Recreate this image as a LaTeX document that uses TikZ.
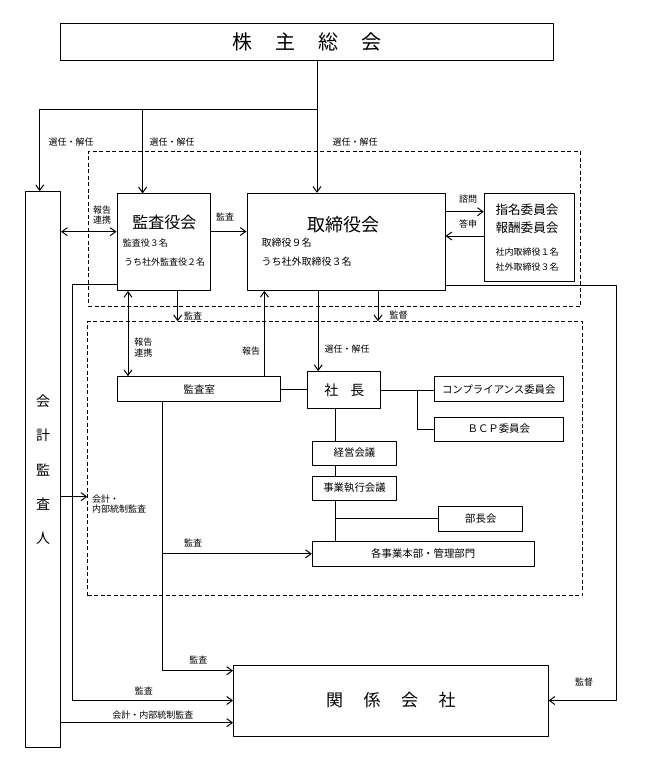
\documentclass[tikz,border=0pt]{standalone}
\usepackage{fontspec}
\setmainfont{Noto Sans CJK JP}
\usetikzlibrary{arrows.meta}

\begin{document}
\begin{tikzpicture}[x=1pt,y=-1pt,>={Straight Barb[length=5.5pt,width=8pt]},line join=bevel,line width=1pt,
  box/.style={draw,rectangle,inner sep=0pt},
  grp/.style={draw,rectangle,inner sep=0pt,line width=0.8pt,dash pattern=on 4pt off 2.5pt},
  lbl/.style={inner sep=0pt,font=\fontsize{9}{10.5}\selectfont},
  txt/.style={inner sep=0pt,font=\fontsize{10.4}{12}\selectfont},
  sub/.style={inner sep=0pt,anchor=west,font=\fontsize{9}{11}\selectfont}]
\useasboundingbox (0,0) rectangle (648,765);
%%
  % Group: board
  \node[grp,minimum width=492.6pt,minimum height=154.3pt] (grp1) at (334.3,228.85) {};
  % Group: executive
  \node[grp,minimum width=494.9pt,minimum height=274pt] (grp2) at (335.15,458.7) {};
  % Node: 株主総会
  \node[box,minimum width=493.4pt,minimum height=37.3pt,font=\fontsize{20}{24}\selectfont] (agm) at (307,41.7)
    {株\hspace{22.7pt}主\hspace{22.7pt}総\hspace{22.7pt}会};
  % Node: 会計監査人
  \node[box,minimum width=34.8pt,minimum height=556pt,align=center,font=\fontsize{14}{34.2}\selectfont] (auditor) at (43.1,469.7)
    {会\\計\\監\\査\\人};
  % Node: 監査役会
  \node[box,minimum width=93pt,minimum height=96.5pt] (kansa) at (163.5,242.2) {};
  \node[inner sep=0pt,font=\fontsize{16}{18}\selectfont] (kansa-t) at (164.3,222.7) {監査役会};
  \node[sub] (kansa-n1) at (122.3,242.7) {監査役３名};
  \node[sub] (kansa-n2) at (123.5,261.7) {うち社外監査役２名};
  % Node: 取締役会
  \node[box,minimum width=198pt,minimum height=97pt] (board) at (346,241.8) {};
  \node[inner sep=0pt,font=\fontsize{18}{20}\selectfont] (board-t) at (343,225) {取締役会};
  \node[sub,font=\fontsize{10}{12}\selectfont] (board-n1) at (261.2,242.7) {取締役９名};
  \node[sub,font=\fontsize{10}{12}\selectfont] (board-n2) at (261.2,261.7) {うち社外取締役３名};
  % Node: 指名委員会・報酬委員会
  \node[box,minimum width=90.7pt,minimum height=88pt] (iinkai) at (529.6,237) {};
  \node[inner sep=0pt,font=\fontsize{12.6}{14}\selectfont] (iinkai-t1) at (527,209.3) {指名委員会};
  \node[inner sep=0pt,font=\fontsize{12.6}{14}\selectfont] (iinkai-t2) at (527,227.7) {報酬委員会};
  \node[inner sep=0pt,font=\fontsize{9}{11}\selectfont] (iinkai-n1) at (527,252.5) {社内取締役１名};
  \node[inner sep=0pt,font=\fontsize{9}{11}\selectfont] (iinkai-n2) at (527,267.5) {社外取締役３名};
  % Node: 監査室
  \node[box,txt,minimum width=163.3pt,minimum height=25pt] (office) at (199.3,389.2) {監査室};
  % Node: 社長
  \node[box,minimum width=73.3pt,minimum height=36.8pt,font=\fontsize{14}{16}\selectfont] (ceo) at (344.3,390)
    {社\hspace{12pt}長};
  % Node: コンプライアンス委員会
  \node[box,txt,minimum width=129pt,minimum height=25pt] (comp) at (498.8,389.2) {コンプライアンス委員会};
  % Node: BCP委員会
  \node[box,txt,minimum width=129pt,minimum height=24pt] (bcp) at (498.8,429) {ＢＣＰ委員会};
  % Node: 経営会議
  \node[box,txt,minimum width=84.4pt,minimum height=24pt] (keiei) at (354.5,453) {経営会議};
  % Node: 事業執行会議
  \node[box,txt,minimum width=84.4pt,minimum height=24pt] (jigyo) at (354.5,488) {事業執行会議};
  % Node: 部長会
  \node[box,txt,minimum width=83.7pt,minimum height=24.5pt] (bucho) at (480.8,518.8) {部長会};
  % Node: 各事業本部・管理部門
  \node[box,txt,minimum width=221.7pt,minimum height=24.5pt] (honbu) at (423.2,553.8) {各事業本部・管理部門};
  % Node: 関係会社
  \node[box,minimum width=314.5pt,minimum height=71pt,font=\fontsize{17}{20}\selectfont] (group) at (390.8,700.5)
    {関\hspace{20.5pt}係\hspace{20.5pt}会\hspace{20.5pt}社};
%%
  \coordinate (bus) at (317,110);
  % Edge: 株主総会 -> 取締役会
  \draw[->] (bus |- agm.south) -- (bus |- board.north);
  \node[lbl] (l-elect3) at (355,141.7) {選任・解任};
  % Edge: 株主総会 -> 会計監査人
  \draw[->] (bus) -| ([xshift=-3.4pt]auditor.north);
  \node[lbl] (l-elect1) at (71,141.7) {選任・解任};
  % Edge: 株主総会 -> 監査役会
  \draw[->] (bus) -| ([xshift=-20.9pt]kansa.north);
  \node[lbl] (l-elect2) at (172,141.7) {選任・解任};
  % Edge: 会計監査人 <-> 監査役会
  \draw[<->] (auditor.east |- 0,231.7) -- (kansa.west |- 0,231.7);
  \node[lbl,align=center] (l-report1) at (102,215) {報告\\連携};
  % Edge: 監査役会 -> 取締役会
  \draw[->] (kansa.east |- 0,231.5) -- (board.west |- 0,231.5);
  \node[lbl] (l-audit1) at (225.2,216.7) {監査};
  % Edge: 取締役会 -> 指名委員会
  \draw[->] (board.east |- 0,211.7) -- (iinkai.west |- 0,211.7);
  \node[lbl] (l-ask) at (468,199.5) {諮問};
  % Edge: 指名委員会 -> 取締役会
  \draw[->] (iinkai.west |- 0,236) -- (board.east |- 0,236);
  \node[lbl] (l-answer) at (468,224.5) {答申};
  % Edge: 監査役会 -> 関係会社
  \draw[->] (kansa.west |- 0,284) -- (72,284) |- (group.west);
  \node[lbl] (l-audit5) at (143.8,690.7) {監査};
  % Edge: 取締役会 -> 関係会社
  \draw[->] (board.east |- 0,285.3) -- (616.5,285.3) |- (group.east);
  \node[lbl] (l-super2) at (584,682.3) {監督};
  % Edge: 監査役会 -> executive
  \draw[->] (177.7,0 |- kansa.south) -- (177.7,0 |- grp2.north);
  \node[lbl] (l-audit2) at (193,315.5) {監査};
  % Edge: 取締役会 -> executive
  \draw[->] (378,0 |- board.south) -- (378,0 |- grp2.north);
  \node[lbl] (l-super1) at (398.5,315.5) {監督};
  % Edge: 取締役会 -> 社長
  \draw[->] (318.2,0 |- board.south) -- (318.2,0 |- ceo.north);
  \node[lbl] (l-elect4) at (347.2,349.3) {選任・解任};
  % Edge: 監査役会 <-> 監査室
  \draw[<->] (128,0 |- kansa.south) -- (128,0 |- office.north);
  \node[lbl,align=center] (l-report2) at (143.3,347.8) {報告\\連携};
  % Edge: 監査室 -> 取締役会
  \draw[->] (264.4,0 |- office.north) -- (264.4,0 |- board.south);
  \node[lbl] (l-report3) at (251,350.7) {報告};
  % Edge: 監査室 -- 社長
  \draw (office.east) -- (office.east -| ceo.west);
  % Edge: 社長 -- コンプライアンス委員会
  \draw (ceo.east) -- (ceo.east -| comp.west);
  % Edge: 社長 -- BCP委員会
  \draw (417.3,0 |- ceo.east) |- (bcp.west);
  % Edge: 社長 -- 経営会議 -- 事業執行会議 -- 各事業本部
  \draw (335.6,0 |- ceo.south) -- (335.6,0 |- keiei.north);
  \draw (335.6,0 |- keiei.south) -- (335.6,0 |- jigyo.north);
  \draw (335.6,0 |- jigyo.south) -- (335.6,0 |- honbu.north);
  % Edge: 事業執行会議 -- 部長会
  \draw (335.6,0 |- bucho.west) -- (bucho.west);
  % Edge: 監査室 -> 関係会社
  \draw[->] (162.5,0 |- office.south) |- (group.west |- 0,670.7);
  \node[lbl] (l-audit4) at (198.3,660) {監査};
  % Edge: 監査室 -> 各事業本部
  \draw[->] (162.5,0 |- honbu.west) -- (honbu.west);
  \node[lbl] (l-audit3) at (193,543.3) {監査};
  % Edge: 会計監査人 -> executive
  \draw[->] (auditor.east |- 0,496.7) -- (grp2.west |- 0,496.7);
  \node[lbl,align=left,anchor=west] (l-acc1) at (91.5,504) {会計・\\内部統制監査};
  % Edge: 会計監査人 -> 関係会社
  \draw[->] (auditor.east |- 0,722.7) -- (group.west |- 0,722.7);
  \node[lbl] (l-acc2) at (152.9,715) {会計・内部統制監査};
%
\end{tikzpicture}
\end{document}
